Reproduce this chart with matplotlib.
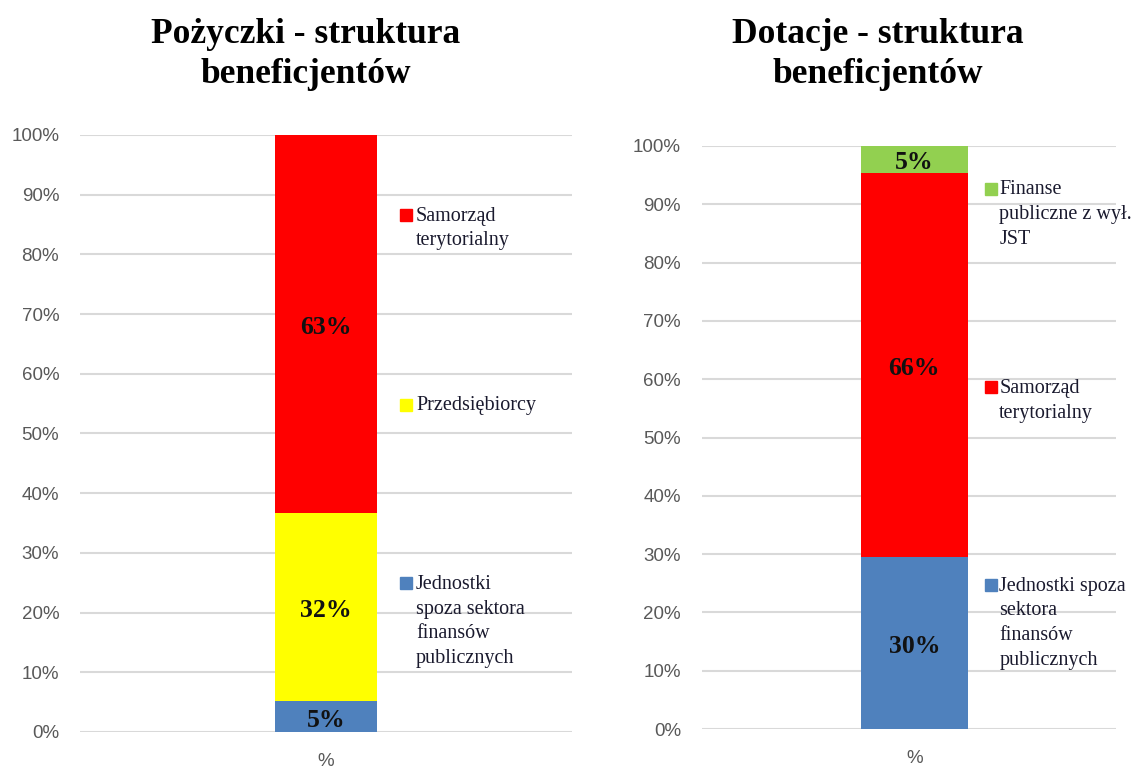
import numpy as np
import matplotlib.pyplot as plt

# --- data ---
left_labels = ['Jednostki\nspoza sektora\nfinansów\npublicznych', 'Przedsiębiorcy',
               'Samorząd\nterytorialny']
left_values = [5.2, 31.5, 63.3]
left_text = ['5%', '32%', '63%']
left_colors = ['#4f81bd', '#ffff00', '#ff0000']

right_labels = ['Jednostki spoza\nsektora\nfinansów\npublicznych', 'Samorząd\nterytorialny',
                'Finanse\npubliczne z wył.\nJST']
right_values = [29.5, 65.9, 4.6]
right_text = ['30%', '66%', '5%']
right_colors = ['#4f81bd', '#ff0000', '#92d050']

category = ['%']

SERIF = 'Liberation Serif'
SANS = 'Liberation Sans'
GRID = '#d9d9d9'
TICK = '#595959'

fig = plt.figure(figsize=(11.32, 7.70), dpi=100)


def panel(rect, xlim, width, values, texts, colors, labels, leg_x, leg_y):
    ax = fig.add_axes(rect)
    bottom = 0.0
    for v, t, c in zip(values, texts, colors):
        ax.bar(0, v, width=width, bottom=bottom, color=c, zorder=3)
        ax.text(0, bottom + v / 2 - 0.6, t, ha='center', va='center', family=SERIF,
                fontweight='bold', fontsize=18.5, color='#111111', zorder=4)
        bottom += v
    ax.set_xlim(*xlim)
    ax.set_ylim(0, 100)
    ax.set_yticks(np.arange(0, 101, 10))
    ax.set_yticklabels([f'{t}%' for t in range(0, 101, 10)])
    ax.set_xticks([0])
    ax.set_xticklabels(category)
    ax.tick_params(axis='both', length=0, labelsize=13.5, labelcolor=TICK)
    ax.tick_params(axis='y', pad=15)
    ax.tick_params(axis='x', pad=15)
    for lab in ax.get_xticklabels() + ax.get_yticklabels():
        lab.set_family(SANS)
    ax.grid(axis='y', color=GRID, linewidth=1.5, zorder=0)
    for s in ax.spines.values():
        s.set_visible(False)
    # legend drawn by hand, top entry first
    for c, lab, y in zip(colors[::-1], labels[::-1], leg_y):
        ax.plot(leg_x, y - 0.014, marker='s', markersize=8.5, color=c,
                transform=ax.transAxes, clip_on=False)
        ax.text(leg_x + 0.02, y, lab, transform=ax.transAxes, ha='left', va='top',
                family=SERIF, fontsize=14.5, color='#1a1a2e', linespacing=1.4)
    return ax


panel([0.0707, 0.0494, 0.4346, 0.7753], (-1, 1), 0.415,
      left_values, left_text, left_colors, left_labels, 0.663, [0.880, 0.562, 0.263])
panel([0.6201, 0.0532, 0.3657, 0.7572], (-1, 0.949), 0.503,
      right_values, right_text, right_colors, right_labels, 0.698, [0.941, 0.600, 0.261])

fig.text(0.2703, 0.977, 'Pożyczki - struktura\nbeneficjentów', ha='center', va='top',
         family=SERIF, fontweight='bold', fontsize=25.5, linespacing=1.3)
fig.text(0.7752, 0.977, 'Dotacje - struktura\nbeneficjentów', ha='center', va='top',
         family=SERIF, fontweight='bold', fontsize=25.5, linespacing=1.3)

fig.savefig('out.png', dpi=100)
